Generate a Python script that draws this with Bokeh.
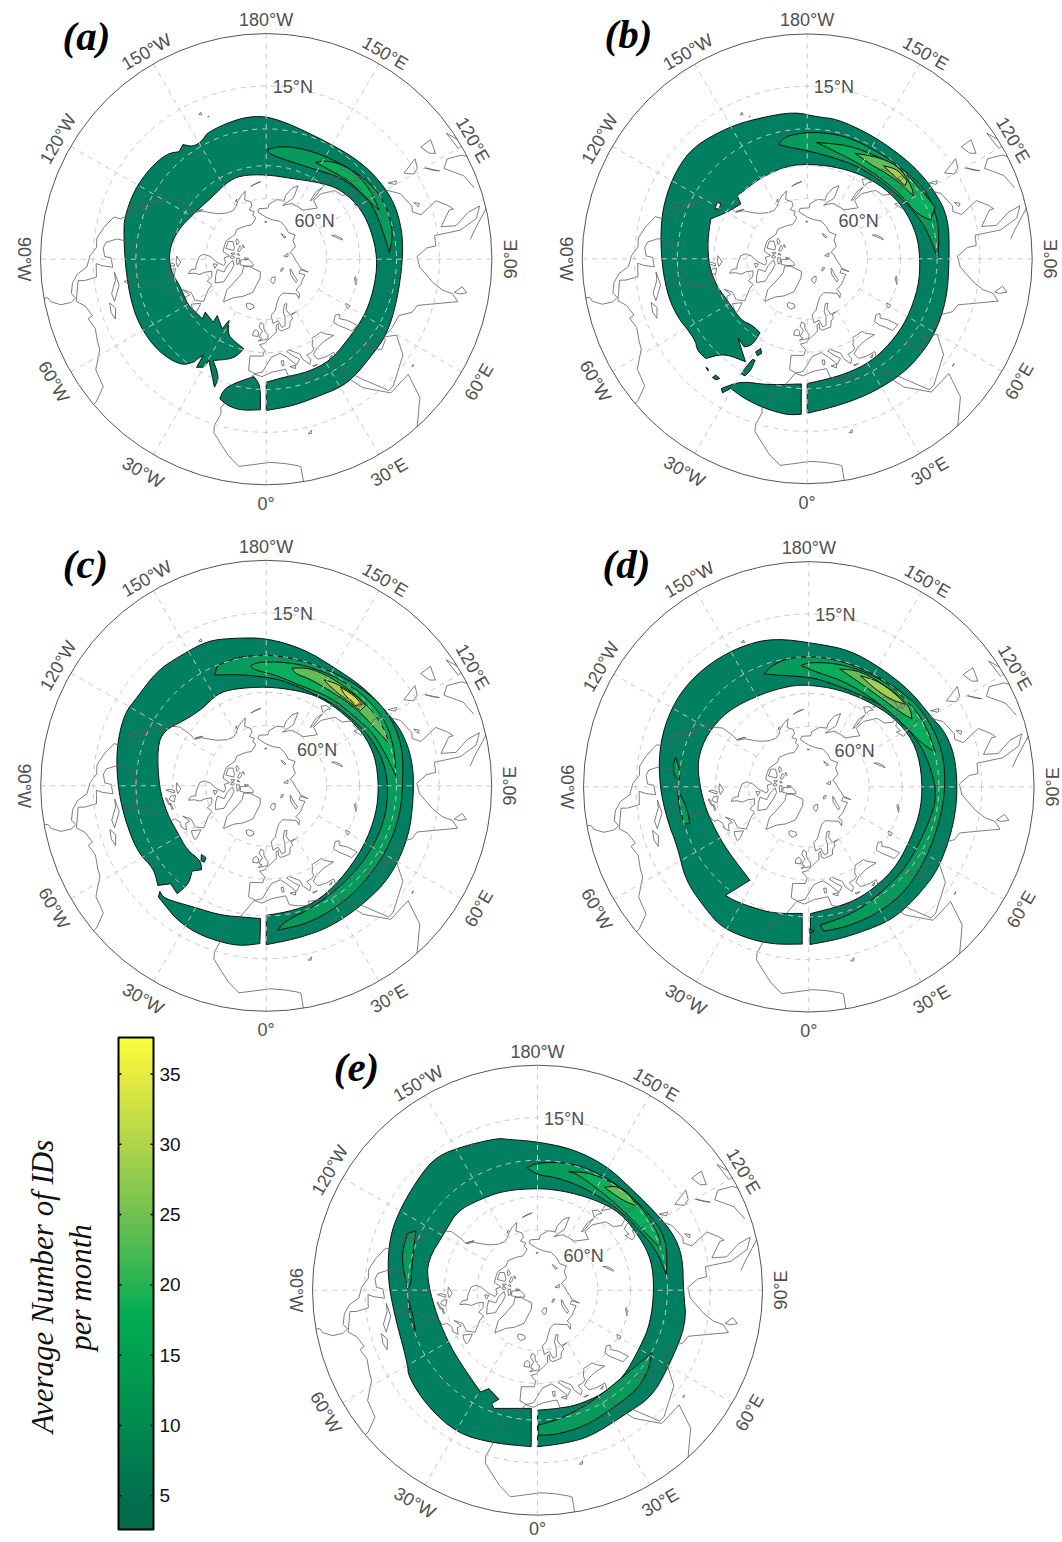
import math
import numpy as np
from bokeh.plotting import figure
from bokeh.embed import file_html
from bokeh.resources import INLINE
from bokeh.core.properties import value
from bokeh.models import Range1d, LinearColorMapper

# ---------- data ----------
# Shapes are (longitude east, map radius); map radius 677 is the equator of the polar stereographic map.
EQUATOR = 677.0
PANEL_NAMES = ["(a)", "(b)", "(c)", "(d)", "(e)"]
LON_LABELS = ["0°", "30°E", "60°E", "90°E", "120°E", "150°E", "180°W", "150°W", "120°W", "90°W", "60°W", "30°W"]
LAT_GRID = [60, 45, 30, 15]
LON_GRID = [0, 30, 60, 90, 120, 150, 180, 210, 240, 270, 300, 330]
CBAR_TICKS = [5, 10, 15, 20, 25, 30, 35]
CBAR_MIN, CBAR_MAX = 2.6, 37.6
CBAR_STOPS = [(2.6, "#08694f"), (5, "#03704f"), (10, "#008a4f"), (15, "#00a050"), (18, "#05ad53"), (20, "#25b354"),
              (25, "#70c250"), (30, "#afd44a"), (35, "#e6ec40"), (37.6, "#fbfd3a")]
LEVEL_COLORS = {1: "#008060", 2: "#069a5c", 3: "#08ae5c", 4: "#62bd58", 5: "#a4cf50", 6: "#d2dd48"}

A_MAIN = [(0,454),(10.7,447),(21.7,440),(30,444),(36.6,441),(46.8,429),(58,427),(72.5,412),(90,410),(102,417),(114.7,421),(128,412),(139,403),(151,396),(163.7,402),(174,418),(182,431),(191.7,430),(205,420),(208,404),(213,402),(216,425),(219,415),(223,434),(231.5,443),(242.6,447),(253.5,443),(260,434),(273,423),(287,425),(298,429),(310,427),(321,410),(325,378),(325.3,364),(326.8,345),(327.2,386),(330,374),(330.5,349),(338,414),(338.3,381),(332.4,343),(342,314),(346,277),(338.3,263),(332.8,252),(328.7,215),(327.7,247),(319,224),(320,247),(311,242),(313,262),(305,266),(299.5,272),(288,270),(277,289),(265,293),(252,280),(236,255),(221,247),(207,259),(197,263),(180,254),(161,255),(146.5,277),(135,303),(121,320),(107,327),(90,335),(73.8,336),(59.3,341),(45,344),(32.4,360),(20,361),(8.5,358),(0,369)]
A_SOUTH = [(357.8,452),(350.4,460),(345,454),(341.6,441),(342,409),(346.7,379),(354,354),(357.4,379)]
A_L2 = [(179.5,329),(172.8,342),(161,350),(149,357),(135,374),(123.8,389),(113,395),(101,388),(93,370),(102,361),(115.8,359),(125.4,347),(137.8,332),(152,306),(168,303),(177.6,314)]
A_L3 = [(153,326),(149,345),(142,363),(133,374),(123,375),(113.6,369),(122,351),(132.4,343),(144,329)]

B_MAIN = [(0,465),(11.5,452),(23.7,448),(35.5,448),(45.4,449),(58.3,447),(73.4,438),(90,428),(106.4,443),(118.9,434),(131,425),(143.3,418),(154.6,420),(167.9,430),(176,428),(185,444),(198,447),(210,461),(225,481),(236,476),(248,464),(260,449),(276,437),(291,434),(306,415),(309.6,431),(314.5,428),(318.7,379),(329,361),(319,317),(324.4,326),(327.6,308),(327.5,264),(320.5,259),(312.8,272),(297.5,271),(287.5,283),(275,296),(259.6,305),(247.5,314),(239.7,278),(230.5,259),(227.9,283),(209.7,282),(192,286),(180,285),(164,289),(147.9,301),(133,315),(118,329),(102.8,338),(90,340),(75.8,346),(58.3,352),(44.4,357),(31.5,364),(19,365),(7.8,368),(0,375)]
B_SOUTH = [(357.8,468),(352.7,474),(343.9,468),(335.7,461),(329.5,453),(327.7,477),(326.5,468),(331.5,419),(342.5,398),(357.3,377)]
B_ISLE1 = [(330,399),(331.4,345),(332.8,343),(333.2,377),(332,399)]
B_ISLE2 = [(331,320),(332.6,304),(334.3,316),(332.8,328)]
B_ISLE3 = [(321.4,457),(321.8,445),(323.8,446),(323,456)]
B_ISLE4 = [(317,447),(317.9,445),(318.6,450)]
B_HOLE = [(241.6,316),(237.8,319),(237.6,308),(240.5,305)]
B_L2 = [(194,354),(190.8,374),(180,382),(166.5,386),(155.4,385),(141.8,388),(127.4,403),(116.6,414),(103.4,409),(90,393),(101.6,373),(110.5,358),(123.5,336),(136.9,322),(151.8,318),(169,316),(180,325),(190,342)]
B_L3 = [(175.4,351),(160.7,363),(145.9,374),(132.4,393),(119.7,403),(111.9,415),(107.5,388),(112.3,356),(124.9,341),(138,329),(154.6,327),(169.8,340)]
B_L4 = [(155.5,349),(144,376),(134.5,392),(124.3,382),(120.7,372),(133.3,357),(146.3,342)]
B_L5 = [(140.6,362),(135,382),(128,381),(126.7,368),(133.9,361)]

C_MAIN = [(0,477),(11.5,468),(24.5,466),(39.6,460),(53.7,463),(70.2,455),(85.6,444),(98.5,446),(110.7,441),(121.3,425),(135.3,416),(150.3,410),(164.6,426),(180,444),(192.3,454),(202,470),(213.3,468),(223.4,476),(235.5,470),(243.2,478),(255.5,464),(269,447),(282.4,437),(297.2,435),(306.5,419),(312.6,442),(315.7,411),(320.5,420),(321.7,374),(319,339),(322.4,318),(318.7,298),(309.3,306),(297.5,301),(285.8,309),(270.7,322),(250.5,347),(241.6,349),(231.6,315),(219.7,300),(208,313),(198.4,307),(180,298),(162,301),(148.5,312),(132.8,318),(118,332),(104.7,339),(90,338),(75.8,341),(57.9,346),(38.1,361),(22,382),(9.4,384),(0,389)]
C_SOUTH = [(357.7,474),(350.9,487),(343.7,489),(335,490),(326.5,484),(319,469),(315.9,465),(314.8,450),(317.8,457),(329.2,424),(340.6,412),(350.3,400),(357.6,399)]
C_ISLE = [(316.7,284),(320,280),(321,295),(319,298)]
C_L2 = [(205,367),(202,390),(192.7,396),(180,394),(166.3,392),(150.8,396),(136.3,410),(121.9,428),(107.2,427),(93.6,412),(78.2,412),(61.9,412),(44.9,415),(30.3,422),(16.5,432),(4.6,435),(7.4,412),(21.5,391),(38.4,375),(54.8,371),(72.1,371),(87.8,368),(102,361),(115,345),(126.7,328),(140.5,319),(156.7,311),(170.5,320),(180,326),(193,343)]
C_L3 = [(187.4,364),(182.6,374),(165.8,380),(150,387),(134.8,399),(120.3,409),(106.8,402),(94.6,390),(103.3,373),(115.8,359),(128.7,337),(144,329),(161,318),(176,335),(186,350)]
C_L4 = [(167.6,362),(159.4,378),(146,381),(129,390),(116.5,394),(108.8,391),(118.6,368),(128,359),(140,347),(157.5,347),(165.3,347)]
C_L5 = [(151.2,363),(145.2,373),(136.4,381),(129,383),(128.6,362),(140.5,351),(149,357)]
C_L6 = [(143,371),(135.9,378),(130.3,377),(132,360),(139.8,361)]

D_MAIN = [(0.4,474),(10.5,467),(22,465),(32.8,471),(44.5,464),(58.6,463),(79.7,452),(98.8,450),(111,444),(120.4,423),(133.5,420),(149,418),(163,428),(175.3,430),(193,459),(205.3,469),(218.3,476),(231.4,480),(243.8,474),(256.4,463),(270,448),(283.4,437),(294.6,434),(307.2,465),(318.9,479),(327.8,497),(337.9,492),(347.5,485),(357.6,473),(357,381),(344.6,395),(334,401),(326.6,409),(322.5,411),(327.8,332),(308,311),(293,310),(279.2,319),(265,333),(255,344),(242.5,344),(227,335),(207.5,314),(190.3,309),(180,306),(163.9,306),(146,313),(129.3,330),(113.8,344),(98.2,343),(79.8,345),(62.2,345),(45.5,358),(28.6,366),(16.4,371),(0.8,381)]
D_L2 = [(201.7,365),(195.9,384),(186.6,394),(172,393),(156.6,391),(140,397),(123.6,414),(105,419),(87,411),(71.2,407),(56.2,415),(41.6,429),(28.3,433),(15.3,436),(5.9,436),(4.8,417),(19.5,404),(33.8,386),(50.7,381),(72.9,377),(85.4,386),(97.5,373),(111,359),(125.9,339),(139.2,329),(156.6,315),(172,322),(180,329),(191,340),(198.8,356)]
D_L3 = [(183.6,365),(180,374),(167,381),(153,386),(139.5,393),(120.6,401),(105.3,394),(110.8,364),(123.5,341),(139.2,329),(160,334),(175.8,345)]
D_L4 = [(165.3,366),(156,382),(138.6,385),(128,387),(123.3,371),(129,355),(141.4,344),(155.6,350)]
D_L5 = [(155.1,368),(147.3,379),(138,382),(130.6,382),(135.4,363),(144.7,354)]
D_LOBE1 = [(257.5,410),(262.8,390),(267.2,390),(265.2,406),(260.4,413)]
D_LOBE2 = [(271.6,393),(279.4,372),(287.3,374),(286.5,391),(278.9,395)]
D_TINY = [(0.3,427),(2.2,434),(0.4,439)]

E_MAIN = [(0,471),(9.7,468),(19.8,469),(36,458),(47,470),(59.6,457),(77.3,460),(90,439),(102.8,448),(112.4,443),(122.5,426),(136,416),(150.8,428),(165.6,438),(180,447),(191.3,463),(194.8,473),(207,487),(216.7,504),(225,495),(238.8,481),(250.4,473),(265,453),(279.4,437),(299.5,449),(303.9,468),(316.7,482),(330.8,494),(344.1,479),(357.7,471),(357,356),(339.8,379),(338,368),(340.5,348),(333.7,330),(330.8,351),(316.9,323),(303,312),(285,312),(266.7,330),(255,343),(237,329),(225.2,339),(212,323),(198.7,316),(180,307),(165.2,309),(148.3,322),(133.2,342),(117.2,347),(104.5,355),(90,351),(73.4,354),(61,353),(44.8,368),(32.6,369),(19,366),(9.4,361),(0,361)]
E_L2 = [(185,370),(180,384),(167,394),(156.4,397),(143,399),(128,405),(112,420),(96.5,391),(108.3,378),(120,357),(136.2,345),(155.8,339),(170,344),(180,347)]
E_L3 = [(165.2,369),(155.8,388),(140,403),(124.8,401),(112.5,402),(109.4,389),(119.3,366),(132.7,352),(147.7,354),(161,369)]
E_L4 = [(147,369),(142.7,395),(135.5,398),(130.4,392),(136,373)]
E_LOW = [(61.6,391),(54.2,412),(44.8,424),(31.2,422),(18.7,434),(6.4,439),(0.2,436),(0.2,406),(8.6,395),(21.6,378),(34.8,366),(49.2,369),(58.6,386)]
E_LOBE1 = [(246.4,427),(244,407),(255.3,389),(267.1,381),(269.4,391),(259,414),(253.7,423)]
E_LOBE2 = [(274.6,390),(280.7,383),(288.2,387),(283.4,392)]

# Coastlines: (longitude, latitude)
AMERICAS = [(-80,0),(-80,1),(-78.8,1.6),(-77.5,4),(-77.5,7),(-78.5,8.5),(-80,7.5),(-83,8.3),(-85.5,10),(-87.5,13),(-91,14),(-94,16),(-97,15.8),(-101,17.5),(-105.5,20),(-105.5,22.5),(-109,25.5),(-112.5,29),(-114.8,31.7),(-114.7,30.5),(-112,27),(-110,23.5),(-112,25),(-115,28),(-116.5,31.5),(-118.5,34),(-120.6,34.6),(-122.5,37.7),(-124.3,40.4),(-124,46),(-123,48.5),(-127,51),(-130,54.5),(-133,57),(-136,58.5),(-140,60),(-146,60.8),(-150,60),(-152,59),(-154,58),(-158,56.5),(-163,55),(-160,58.7),(-165,60.5),(-165,62.5),(-161,64),(-166,65.5),(-163,67),(-166,68.5),(-162,70),(-156.5,71.2),(-150,70.5),(-141,69.7),(-135,69),(-128,70),(-124,69.5),(-115,68),(-108,68),(-100,68),(-95,71.5),(-92,69),(-85,69.5),(-81.5,68.5),(-87,65),(-93,62),(-94.5,59),(-92.5,57),(-85,55.3),(-82,55),(-82,52.8),(-79.5,51.3),(-79,54),(-77,56.5),(-78,59),(-77.5,62.3),(-72,61.5),(-69.5,58.8),(-65,60.3),(-62,57.5),(-56,53),(-60,50),(-66,50),(-70,47),(-65,49),(-65,47),(-61,46),(-64,44.5),(-67,45),(-70,43.5),(-70,41.7),(-74,40.5),(-75.5,37.5),(-76,35),(-79,33.2),(-81,31),(-80,26.5),(-81,25),(-82.7,28),(-84,30),(-89,30.3),(-90,29),(-94,29.5),(-97.3,27.5),(-97.7,22.5),(-96,19),(-94,18.2),(-91,18.8),(-90.5,21),(-87,21.5),(-87.7,18),(-88.5,16),(-84,15.8),(-83.3,12),(-83.5,10),(-80,9.2),(-77.5,8.5),(-75.5,10.7),(-72,12),(-71.5,10.5),(-68,11.5),(-64,10.5),(-61.5,10),(-57,6),(-52,5),(-50,1),(-50,0)]
AFRO_EURASIA = [(9.5,0),(9.5,4),(8.5,4.5),(5,5.5),(1,6),(-4,5.2),(-7.5,4.4),(-11,7),(-13.5,9.5),(-16.8,12.5),(-17.3,14.7),(-16.3,19),(-17,21),(-14.5,26),(-11,29),(-9.7,31),(-6,35.8),(-2,35),(3,36.8),(10,37.3),(11,33.5),(15,32.3),(20,31),(20,32.8),(25,31.7),(32,31.2),(34.3,31.3),(36,36),(32,36.2),(30,36.5),(27.3,37),(26.3,39.5),(29,41),(35,42),(41.5,41.5),(38,44.5),(37,46),(33,46),(30.5,46),(28,43),(28,41.5),(26,40.7),(23,40.5),(24,38),(22.5,36.5),(20,39.5),(19.5,42),(14,45),(12.5,44.5),(16,41.7),(18.5,40),(16,38),(12,42),(8.5,44.3),(3,43),(0,39.5),(-2,36.8),(-5.5,36),(-9,37),(-9.5,43),(-2,43.5),(-1,46),(-4.5,48.4),(-1.5,49),(2,51),(4,52),(8,54),(8.5,57),(10.5,57.5),(10,55),(12,54),(19,54.5),(21,57),(24,58),(24,59.5),(30,60),(23,60),(21.5,63),(25,65.5),(22,65.7),(18,62.5),(18,60),(16,56),(13,55.5),(11,59),(6,58),(5,62),(10,64),(14,67.5),(19,70),(26,71),(31,70),(41,67),(40,64.5),(44,66),(44,68.5),(54,68.5),(60,69),(68,69),(67,72),(73,72),(73,68),(75,72),(81,73.5),(87,75),(100,76.5),(105,77.5),(113,74),(125,73.5),(130,71),(140,72.5),(150,71),(160,69.7),(170,70),(180,69),(190,66),(188,64.5),(178,64.5),(177,62.5),(170,60),(163,59.5),(163,57),(160,53),(156.5,51),(156,57),(163,62),(155,59.5),(143,59.5),(135,54.5),(141,53),(140,48.5),(135,43.5),(130,42.5),(127.5,39.5),(129.5,36),(126.5,34.5),(126.5,37.5),(125,39.6),(121.5,39),(122,40.7),(118,39),(119,37.3),(122.5,37),(119.5,35),(121.7,31.5),(120,27),(116,23),(110,21),(108,21.5),(106,19),(109,13),(106.5,10),(105,8.7),(105,10),(100.5,13.5),(100,9),(103,5),(104,1.5),(101,3),(98.5,8),(98,16),(94.5,16),(94,19),(91,22.5),(87,21.5),(82,16.5),(80,13),(79.5,10),(77.5,8),(73,20),(70,21),(67,24.8),(61,25.2),(57,26),(52,27.5),(48.5,30),(50,26.5),(52,24),(56,25),(56.5,26),(59.8,22.5),(55,17),(45,13),(43,13),(39,21),(35,28),(33,28),(37,19),(43,12),(51,12),(48,5),(42,0)]
ISLANDS = [
    [(-45,60),(-52,65),(-54,70),(-60,76),(-72,78),(-65,81),(-45,82.5),(-25,83),(-18,80),(-22,72),(-32,68),(-40,65),(-45,60)],
    [(-24,65.5),(-22,64),(-18,63.5),(-14,65),(-16,66.3),(-22,66.3),(-24,65.5)],
    [(-5.5,50),(1,51),(1.5,52.8),(-1,54.5),(-2,56),(-2,57.7),(-5,58.5),(-6,56.5),(-3,54.5),(-4.5,53),(-5,51.7),(-3,51.3),(-5.5,50)],
    [(-10,52),(-6,52),(-6,54),(-8,55),(-10,54),(-10,52)],
    [(11,79),(16,77),(22,78),(27,80),(18,80.3),(11,79)],
    [(52,71),(56,71),(60,74),(68,76.5),(68,77),(58,75.5),(54,73),(52,71)],
    [(-62,66),(-65,62),(-72,63.5),(-78,65),(-73,68),(-80,70),(-88,73),(-80,73.5),(-72,71.5),(-67,69),(-62,66)],
    [(-105,69),(-115,69),(-118,71),(-110,73),(-105,73),(-105,69)],
    [(-62,82.5),(-70,83),(-90,81),(-88,77),(-78,76.5),(-72,79),(-62,82.5)],
    [(-122,72),(-125,72),(-122,74),(-116,73.5),(-122,72)],
    [(-80,75),(-92,75),(-92,76.5),(-80,76),(-80,75)],
    [(-106,75),(-117,75),(-115,76.5),(-106,76),(-106,75)],
    [(-85,63.5),(-80,64),(-84,65.5),(-85,63.5)],
    [(-97,73),(-100,72),(-101,74),(-97,73)],
    [(-92,72),(-96,72.5),(-94,74),(-91,73.5),(-92,72)],
    [(-94,79),(-87,79.5),(-92,81),(-94,79)],
    [(-120,76),(-122,76.5),(-117,77.5),(-120,76)],
    [(-99,75),(-102,75.5),(-98,76.5),(-99,75)],
    [(50,80.5),(60,81),(63,80),(52,80),(50,80.5)],
    [(96,79),(105,78.5),(100,81),(96,79)],
    [(138,75),(145,75),(150,75),(140,76),(138,75)],
    [(179,71),(-178,71),(-178,71.5),(180,71.5),(179,71)],
    [(-154,57),(-152,58),(-153,57.2),(-154,57)],
    [(-176,52),(-172,52.5),(-168,53.5),(-176,52)],
    [(-59,47.7),(-56,51.5),(-53,48),(-53,46.7),(-56,47),(-59,47.7)],
    [(-85,22),(-80,23),(-74.5,20.2),(-77.5,19.9),(-82,22),(-85,22)],
    [(-74.4,18.5),(-72,19.9),(-68.4,18.6),(-71,18),(-74.4,18.5)],
    [(-128,50.7),(-123.5,48.4),(-125,49),(-128,50.7)],
    [(130.9,34),(135,33.6),(140,35),(141.5,38),(141,41.3),(140,40),(137,37),(132,35.3),(130.9,34)],
    [(130,33.3),(131.8,33),(131,31),(130,32),(130,33.3)],
    [(140,42),(143,42),(145.5,43.5),(142,45.4),(141.5,43.2),(140,42)],
    [(142,46),(143.5,49),(143,54),(142,53),(142,49),(142,46)],
    [(120,23),(122,25),(121,22),(120,23)],
    [(109,19),(111,20),(110,18.3),(109,19)],
    [(120,16),(122,18.5),(124,13),(121,14),(120,16)],
    [(122,7),(126,6),(126,9.5),(123,8.5),(122,7)],
    [(118,10),(120,12),(117,8.5),(118,10)],
    [(109,1.5),(113,3),(117,7),(119,5),(118,1),(117,0)],
    [(95.5,5.5),(98,4),(103,0)],
    [(120,0),(120,1),(125,1.5),(122,0)],
    [(80,9.5),(82,7.5),(80.5,6),(79.8,8),(80,9.5)],
    [(-156,20),(-155,19.5),(-156,19),(-156,20)],
    [(-158.2,21.4),(-157.7,21.5),(-158,21.2),(-158.2,21.4)],
    [(12.5,38),(15.5,38),(15,36.7),(12.5,38)],
    [(8.3,41),(9.7,41),(9.5,39),(8.5,39),(8.3,41)],
    [(23.5,35.5),(26,35.2),(24,35),(23.5,35.5)],
    [(32.5,35),(34.5,35.5),(33.5,34.6),(32.5,35)],
    [(47,45.5),(51,47),(53,46),(51,44.5),(53,41.5),(54,37),(50,37.3),(49,40),(47.5,43),(47,45.5)],
    [(59,45),(61,46),(61,44),(59,44),(59,45)],
    [(74,45),(78,46.5),(79,46),(75,45),(74,45)],
    [(104,51.5),(110,55.7),(109,54),(106,52),(104,51.5)],
    [(-92,46.7),(-88,48.5),(-85,47),(-88,46.5),(-92,46.7)],
    [(-87.5,42),(-85.5,45.5),(-87,45.7),(-88,43.5),(-87.5,42)],
    [(-84,46),(-80,45),(-82,43),(-84,44),(-84,46)],
    [(-83,42),(-79,43),(-79,42.5),(-83,41.5),(-83,42)],
    [(-79.5,43.5),(-76,44),(-76,43.3),(-79.5,43.2),(-79.5,43.5)],
    [(53.5,12.5),(54.5,12.6),(54,12.3),(53.5,12.5)],
    [(13.5,13),(14.8,13.8),(14.5,12.8),(13.5,13)],
]

# Panel frames in page pixels: centre x, centre y, equator radius
PANEL_FRAMES = {"(a)": (265.7, 258.7, 225.7), "(b)": (806.7, 258.3, 225.0), "(c)": (265.7, 785.3, 225.5),
                "(d)": (808.3, 786.3, 225.3), "(e)": (537.0, 1289.7, 225.0)}
LETTER_POS = {"(a)": (86, 35), "(b)": (628, 33), "(c)": (85, 563), "(d)": (626, 563), "(e)": (356, 1066)}
LAT15_POS = [(80, -516)]
LAT60_POS = {"(a)": (145, -116), "(b)": (155, -115), "(c)": (153, -106), "(d)": (138, -107), "(e)": (139, -104)}
LABEL_RADIUS = [734, 738, 737, 733, 715, 713, 718, 718, 721, 727, 736, 739]
LABEL_RADIUS_E_ZERO = 718  # the 0° label of panel (e) stays just inside the page
LABEL_ANGLE = [0, 30, 60, 90, -60, -30, 0, 30, 60, -90, -60, -30]

PANEL_SHAPES = {
    "(a)": [(1, A_MAIN), (1, A_SOUTH), (2, A_L2), (3, A_L3)],
    "(b)": [(1, B_MAIN), (1, B_SOUTH), (1, B_ISLE1), (1, B_ISLE2), (1, B_ISLE3), (1, B_ISLE4), (0, B_HOLE), (2, B_L2), (3, B_L3), (4, B_L4), (5, B_L5)],
    "(c)": [(1, C_MAIN), (1, C_SOUTH), (1, C_ISLE), (2, C_L2), (3, C_L3), (4, C_L4), (5, C_L5), (6, C_L6)],
    "(d)": [(1, D_MAIN), (2, D_LOBE1), (2, D_LOBE2), (2, D_TINY), (2, D_L2), (3, D_L3), (4, D_L4), (5, D_L5)],
    "(e)": [(1, E_MAIN), (2, E_L2), (3, E_L3), (4, E_L4), (2, E_LOW), (2, E_LOBE1), (2, E_LOBE2)],
}

# ---------- helpers ----------
LABEL_FONT = value("Liberation Sans")
SERIF = value("Liberation Serif")
GRAY = "#505050"


def polar_xy(frame, lon, rad):
    cx, cy, R = frame
    s = R / EQUATOR
    a = math.radians(lon)
    return cx + s * rad * math.sin(a), cy + s * rad * math.cos(a)


def lat_to_rad(lat):
    return EQUATOR * math.tan(math.radians(90 - lat) / 2)


def hex_mix(c1, c2, t):
    a = [int(c1[i:i + 2], 16) for i in (1, 3, 5)]
    b = [int(c2[i:i + 2], 16) for i in (1, 3, 5)]
    return "#%02x%02x%02x" % tuple(round(u + (v - u) * t) for u, v in zip(a, b))


def cbar_color(v):
    for (v0, c0), (v1, c1) in zip(CBAR_STOPS, CBAR_STOPS[1:]):
        if v <= v1:
            return hex_mix(c0, c1, (v - v0) / (v1 - v0))
    return CBAR_STOPS[-1][1]


def rounded(pts, rounds=2, sharp_deg=50):
    """Corner-cutting of a closed outline: sharp vertices stay sharp, gentle ones are rounded."""
    n = len(pts)
    sharp = []
    for i in range(n):
        ax, ay = pts[i - 1]
        bx, by = pts[i]
        cx, cy = pts[(i + 1) % n]
        t = abs(math.atan2(cy - by, cx - bx) - math.atan2(by - ay, bx - ax))
        t = min(t, 2 * math.pi - t)
        sharp.append(math.degrees(t) > sharp_deg)
    cur = [(q, s) for q, s in zip(pts, sharp)]
    for _ in range(rounds):
        out = []
        m = len(cur)
        for i in range(m):
            (q0, s0), (q1, s1) = cur[i], cur[(i + 1) % m]
            if s0:
                out.append((q0, True))
            else:
                out.append(((0.75 * q0[0] + 0.25 * q1[0], 0.75 * q0[1] + 0.25 * q1[1]), False))
            if not s1:
                out.append(((0.25 * q0[0] + 0.75 * q1[0], 0.25 * q0[1] + 0.75 * q1[1]), False))
        cur = out
    return [q for q, _ in cur]


p = figure(width=1062, height=1542, x_range=Range1d(0, 1062), y_range=Range1d(1542, 0),
           toolbar_location=None, output_backend="svg", min_border=0)
p.axis.visible = False
p.grid.visible = False
p.outline_line_color = None
p.background_fill_color = "white"

COASTS = [AMERICAS, AFRO_EURASIA] + ISLANDS

for name in PANEL_NAMES:
    fr = PANEL_FRAMES[name]
    # filled shapes
    for lvl, shape in PANEL_SHAPES[name]:
        pts = rounded([polar_xy(fr, lo, r) for lo, r in shape])
        color = "white" if lvl == 0 else LEVEL_COLORS[lvl]
        p.patch([q[0] for q in pts], [q[1] for q in pts], fill_color=color, line_color="black", line_width=0.9)
    # coasts
    cx_list, cy_list = [], []
    for c in COASTS:
        pts = [polar_xy(fr, lo, lat_to_rad(la)) for lo, la in c]
        cx_list.append([q[0] for q in pts])
        cy_list.append([q[1] for q in pts])
    p.multi_line(cx_list, cy_list, line_color="#5f5a60", line_width=0.8)
    # grid
    for la in LAT_GRID:
        p.circle([fr[0]], [fr[1]], radius=fr[2] * lat_to_rad(la) / EQUATOR, fill_color=None,
                 line_color="#c8c8c8", line_width=1.0, line_dash="5 5")
    for lo in LON_GRID:
        a = polar_xy(fr, lo, lat_to_rad(60))
        b = polar_xy(fr, lo, EQUATOR)
        p.line([a[0], b[0]], [a[1], b[1]], line_color="#c8c8c8", line_width=1.0, line_dash="5 5")
    # boundary
    p.circle([fr[0]], [fr[1]], radius=fr[2], fill_color=None, line_color="#555555", line_width=1.0)
    # labels
    for i, lab in enumerate(LON_LABELS):
        rad = LABEL_RADIUS_E_ZERO if (name == "(e)" and i == 0) else LABEL_RADIUS[i]
        x, y = polar_xy(fr, LON_GRID[i], rad)
        p.text([x], [y], text=[lab], angle=math.radians(LABEL_ANGLE[i]), text_align="center", text_baseline="middle",
               text_font=LABEL_FONT, text_font_size="18px", text_color=GRAY)
    s = fr[2] / EQUATOR
    p.text([fr[0] + s * LAT15_POS[0][0]], [fr[1] + s * LAT15_POS[0][1]], text=["15°N"], text_align="center",
           text_baseline="middle", text_font=LABEL_FONT, text_font_size="18px", text_color=GRAY)
    dx, dy = LAT60_POS[name]
    p.text([fr[0] + s * dx], [fr[1] + s * dy], text=["60°N"], text_align="center", text_baseline="middle",
           text_font=LABEL_FONT, text_font_size="18px", text_color=GRAY)
    lx, ly = LETTER_POS[name]
    p.text([lx], [ly], text=[name], text_align="center", text_baseline="middle", text_font=SERIF,
           text_font_style="bold italic", text_font_size="41px", text_color="black")

# ---------- colour bar ----------
BAR_LEFT, BAR_RIGHT = 118.0, 153.0
BAR_TOP, BAR_BOT = 1037.0, 1529.0


def bar_y(v):
    return BAR_BOT + (v - CBAR_MIN) * (BAR_TOP - BAR_BOT) / (CBAR_MAX - CBAR_MIN)


n = 256
palette = [cbar_color(CBAR_MIN + (CBAR_MAX - CBAR_MIN) * (i + 0.5) / n) for i in range(n)]
mapper = LinearColorMapper(palette=palette, low=CBAR_MIN, high=CBAR_MAX)
ramp = np.linspace(CBAR_MAX, CBAR_MIN, 492).reshape(-1, 1)
p.image(image=[ramp], x=BAR_LEFT, y=BAR_TOP, dw=BAR_RIGHT - BAR_LEFT, dh=BAR_BOT - BAR_TOP, color_mapper=mapper)
p.quad(left=[BAR_LEFT], right=[BAR_RIGHT], top=[BAR_TOP], bottom=[BAR_BOT], fill_color=None, line_color="black", line_width=2)
for t in CBAR_TICKS:
    y = bar_y(t)
    p.segment([BAR_LEFT, BAR_RIGHT - 3], [y, y], [BAR_LEFT + 3, BAR_RIGHT], [y, y], line_color="black", line_width=1.5)
    p.text([BAR_RIGHT + 6], [y], text=[str(t)], text_baseline="middle", text_align="left", text_font=LABEL_FONT,
           text_font_size="19px", text_color="#111111")
p.text([42], [1286], text=["Average Number of IDs"], angle=math.pi / 2, text_align="center", text_baseline="middle",
       text_font=SERIF, text_font_style="italic", text_font_size="31px", text_color="#111111")
p.text([80], [1287], text=["per month"], angle=math.pi / 2, text_align="center", text_baseline="middle",
       text_font=SERIF, text_font_style="italic", text_font_size="31px", text_color="#111111")

open("out.html", "w").write(file_html(p, INLINE))
